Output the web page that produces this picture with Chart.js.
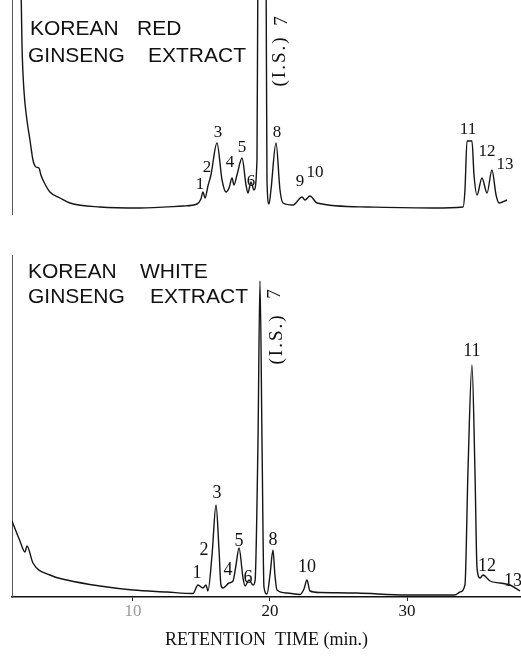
<!DOCTYPE html>
<html>
<head>
    <title>Ginseng extract chromatograms</title>
    <style>
        body { margin: 0; background: #fff; }
        #wrap { position: relative; width: 521px; height: 659px; }
        canvas { position: absolute; left: 0; }
        #chartRed { top: 0; }
        #chartWhite { top: 250px; }
    </style>
    <script src="https://cdn.jsdelivr.net/npm/chart.js"></script>
</head>
<body>
    <div id="wrap">
        <canvas id="chartRed" width="521" height="215"></canvas>
        <canvas id="chartWhite" width="521" height="409"></canvas>
    </div>

    <script>
        // retention time (min) and detector response
        var redTime = [1.82, 1.90, 2.04, 2.26, 2.48, 2.70, 2.92, 3.14, 3.28, 3.50, 3.94, 4.67, 5.40, 7.59, 10.51, 13.65, 14.67, 14.96, 15.11, 15.26, 15.47, 15.69, 16.13, 16.50, 16.79, 17.01, 17.23, 17.37, 17.59, 17.96, 18.25, 18.39, 18.61, 18.83, 19.05, 19.12, 19.42, 19.71, 19.78, 19.93, 20.07, 20.44, 20.73, 20.95, 21.68, 22.34, 22.55, 22.92, 23.43, 27.08, 31.90, 34.09, 34.23, 34.38, 34.74, 34.89, 35.11, 35.47, 35.84, 36.20, 36.50, 36.72, 37.30];
        var redResp = [230, 162, 117, 87, 67, 47, 40, 39, 32, 25, 15, 9, 4, 0, -1, 1, 3, 8, 15, 9, 21, 32, 64, 27, 15, 19, 29, 22, 32, 49, 22, 14, 25, 17, 47, 250, 600, 250, 27, 3, 17, 64, 17, 4, 2, 10, 7, 11, 4, 0, -1, 0, 17, 66, 66, 32, 12, 29, 14, 37, 12, 4, 7];

        var whiteTime = [1.17, 1.75, 2.12, 2.26, 2.70, 3.94, 5.18, 7.59, 10.0, 12.48, 14.38, 14.74, 15.11, 15.33, 15.47, 15.77, 16.06, 16.28, 16.42, 16.57, 17.01, 17.30, 17.52, 17.74, 18.03, 18.18, 18.47, 18.76, 18.91, 19.12, 19.27, 19.42, 19.56, 19.78, 20.0, 20.22, 20.36, 20.51, 21.24, 22.19, 22.48, 22.70, 22.92, 23.65, 26.35, 30.0, 33.5, 33.87, 34.23, 34.45, 34.74, 34.96, 35.11, 35.33, 35.55, 36.06, 36.79, 37.52, 38.25];
        var whiteResp = [74, 54, 43, 49, 32, 20, 15, 9, 5, 3, 1.5, 10, 7, 10, 4, 40, 90, 45, 10, 7, 12, 14, 30, 47, 17, 9, 15, 10, 14, 150, 314, 150, 8, 1, 20, 45, 20, 5, 2, 0.5, 6, 15, 4, 2.5, 2, 0, 0, 3, 10, 124, 230, 124, 27, 17, 20, 14, 12, 10, 4];

        var timeTicks = [10, 20, 30];

        // peak numbers and where they sit (time, response)
        var redPeaks = ['1', '2', '3', '4', '5', '6', '8', '9', '10', '11', '12', '13'];
        var redPeakT = [14.89, 15.40, 16.20, 17.08, 17.96, 18.61, 20.51, 22.19, 23.28, 34.45, 35.84, 37.15];
        var redPeakH = [22, 39, 74, 44, 59, 25, 74, 25, 34, 77, 55, 42];

        var whitePeaks = ['1', '2', '3', '4', '5', '6', '8', '10', '11', '12', '13'];
        var whitePeakT = [14.67, 15.18, 16.13, 16.93, 17.74, 18.39, 20.22, 22.70, 34.74, 35.84, 37.74];
        var whitePeakH = [22, 45, 102, 25, 54, 17, 55, 28, 244, 29, 14];

        var xMin = 1.17, xMax = 38.32;
        var serif = '"Liberation Serif", "DejaVu Serif", serif';
        var sans = '"Liberation Sans", Arial, sans-serif';

        var peakText = {
            id: 'peakText',
            afterDatasetsDraw: function(chart, args, o) {
                var ctx = chart.ctx, xs = chart.scales.x, ys = chart.scales.y;
                ctx.save();
                ctx.fillStyle = '#111';
                ctx.textAlign = 'center';
                ctx.textBaseline = 'middle';
                ctx.font = o.size + 'px ' + serif;
                o.labels.forEach(function(s, i) {
                    ctx.fillText(s, xs.getPixelForValue(o.t[i]), ys.getPixelForValue(o.h[i]));
                });
                // internal standard, written sideways
                o.rot.forEach(function(r) {
                    ctx.save();
                    ctx.translate(xs.getPixelForValue(r[1]), ys.getPixelForValue(r[2]));
                    ctx.rotate(-Math.PI / 2);
                    ctx.font = '19px ' + serif;
                    ctx.letterSpacing = '2px';
                    ctx.fillText(r[0], 0, 0);
                    ctx.restore();
                });
                ctx.font = '21px ' + sans;
                ctx.textAlign = 'left';
                ctx.textBaseline = 'alphabetic';
                o.words.forEach(function(w) {
                    ctx.fillText(w[0], w[1], w[2]);
                });
                ctx.restore();
            }
        };

        function pts(t, v) {
            return t.map(function(x, i) { return { x: x, y: v[i] }; });
        }

        function dashedY(min, max) {
            return {
                min: min, max: max,
                ticks: { display: false },
                grid: { display: false, drawTicks: false },
                border: { display: true, dash: [4, 3], color: '#555', width: 1 },
                afterFit: function(s) { s.width = 0; }
            };
        }

        var traceStyle = { borderColor: '#151515', borderWidth: 1.4, pointRadius: 0, cubicInterpolationMode: 'monotone' };

        new Chart(document.getElementById('chartRed'), {
            type: 'line',
            data: { datasets: [Object.assign({ data: pts(redTime, redResp) }, traceStyle)] },
            options: {
                responsive: false,
                animation: false,
                layout: { padding: { left: 12, right: 0, top: 0, bottom: 0 } },
                plugins: {
                    legend: { display: false },
                    tooltip: { enabled: false },
                    peakText: {
                        size: 17,
                        labels: redPeaks, t: redPeakT, h: redPeakH,
                        rot: [['(I.S.)', 20.70, 146], ['7', 20.85, 187]],
                        words: [['KOREAN', 30, 35], ['RED', 137, 35], ['GINSENG', 28, 62], ['EXTRACT', 148, 62]]
                    }
                },
                scales: {
                    x: { type: 'linear', min: xMin, max: xMax, display: false },
                    y: dashedY(-8, 207)
                }
            },
            plugins: [peakText]
        });

        new Chart(document.getElementById('chartWhite'), {
            type: 'line',
            data: { datasets: [Object.assign({ data: pts(whiteTime, whiteResp) }, traceStyle)] },
            options: {
                responsive: false,
                animation: false,
                layout: { padding: { left: 12, right: 0, top: 5, bottom: 0 } },
                plugins: {
                    legend: { display: false },
                    tooltip: { enabled: false },
                    peakText: {
                        size: 18,
                        labels: whitePeaks, t: whitePeakT, h: whitePeakH,
                        rot: [['(I.S.)', 20.51, 256], ['7', 20.40, 302]],
                        words: [['KOREAN', 28, 28], ['WHITE', 140, 28], ['GINSENG', 28, 53], ['EXTRACT', 150, 53]]
                    }
                },
                scales: {
                    x: {
                        type: 'linear', min: xMin, max: xMax,
                        afterBuildTicks: function(s) { s.ticks = timeTicks.map(function(v) { return { value: v }; }); },
                        afterFit: function(s) { s.height = 62; },
                        border: { display: true, color: '#111', width: 1.5 },
                        grid: { display: true, drawOnChartArea: false, tickLength: 4, color: '#222' },
                        ticks: {
                            font: { family: serif, size: 17 },
                            color: function(c) { return c.tick && c.tick.value === 10 ? '#999' : '#111'; },
                            padding: 0, maxRotation: 0, autoSkip: false
                        },
                        title: {
                            display: true, text: 'RETENTION  TIME (min.)',
                            font: { family: serif, size: 18 }, color: '#111',
                            padding: { top: 8, bottom: 8 }
                        }
                    },
                    y: dashedY(-2, 340)
                }
            },
            plugins: [peakText]
        });
    </script>
</body>
</html>
